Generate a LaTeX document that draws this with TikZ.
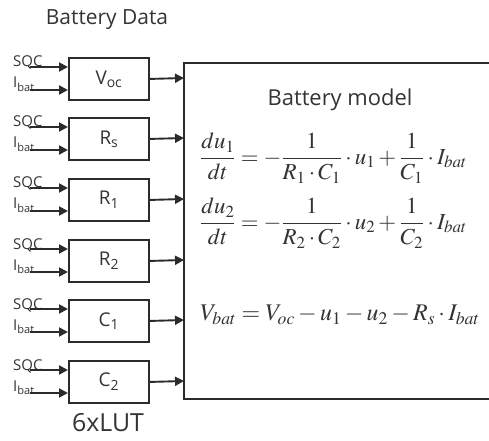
\documentclass[tikz,border=0pt]{standalone}
\usepackage{mathptmx}
\usepackage[no-math]{fontspec}
\setmainfont{Open Sans}
\usetikzlibrary{arrows.meta}
\definecolor{ink}{HTML}{2B2B2B}
\definecolor{txt}{HTML}{333333}
\newcommand{\lbl}[1]{\fontsize{#1}{#1}\selectfont}
\begin{document}
\begin{tikzpicture}[x=1bp,y=-1bp,
  lut/.style={draw=ink,line width=1.9pt,minimum width=80bp,minimum height=42bp,inner sep=0pt,text=txt,font=\lbl{19}},
  arr/.style={draw=ink,line width=1.9pt,-{Triangle[length=9bp,width=9bp]}},
  inlbl/.style={anchor=base west,inner sep=0pt,text=txt,font=\lbl{15}},
  eq/.style={anchor=west,inner sep=0pt,text=txt,font=\lbl{23}}]
\useasboundingbox (0,0) rectangle (489,441);
\clip (0,0) rectangle (489,441);
\node[text=txt,font=\lbl{21}] (title) at (107,20) {Battery Data};
\node[text=txt,font=\lbl{25},inner sep=0pt] (lutlbl) at (108,423) {6xLUT};
% big box
\coordinate (bbtl) at (184,63);
\coordinate (bbbl) at (184,399);
\draw[ink,line width=1.9pt] (500,63) -- (bbtl) -- (bbbl) -- (500,399);
\node[text=txt,font=\lbl{22}] (bmtitle) at (340,100) {Battery model};
\foreach \n/\t/\y in {voc/{V\textsubscript{oc}}/57,rs/{R\textsubscript{s}}/117,rone/{R\textsubscript{1}}/178,rtwo/{R\textsubscript{2}}/239,cone/{C\textsubscript{1}}/299,ctwo/{C\textsubscript{2}}/360}{
  \node[lut,anchor=north west] (\n) at (68,\y) {\t};
  \coordinate (\n-s) at (30,\y+10);
  \coordinate (\n-i) at (30,\y+33);
  \coordinate (\n-o) at (184,\y+21);
  \node[inlbl] (\n-sl) at (13,\y+10) {SQC};
  \node[inlbl] (\n-il) at (13,\y+31) {I\textsubscript{bat}};
  \draw[arr] (\n-s) -- (\n-s -| \n.west);
  \draw[arr] (\n-i) -- (\n-i -| \n.west);
  \draw[arr] (\n.east) -- (\n-o);
}
\node[eq] (eq1) at (200,158) {$\displaystyle \frac{du_1}{dt}=-\frac{1}{R_1\cdot C_1}\cdot u_1+\frac{1}{C_1}\cdot I_{bat}$};
\node[eq] (eq2) at (200,223) {$\displaystyle \frac{du_2}{dt}=-\frac{1}{R_2\cdot C_2}\cdot u_2+\frac{1}{C_2}\cdot I_{bat}$};
\node[eq,font=\lbl{24}] (eq3) at (200,315) {$V_{bat}=V_{oc}-u_1-u_2-R_s\cdot I_{bat}$};
\end{tikzpicture}
\end{document}
